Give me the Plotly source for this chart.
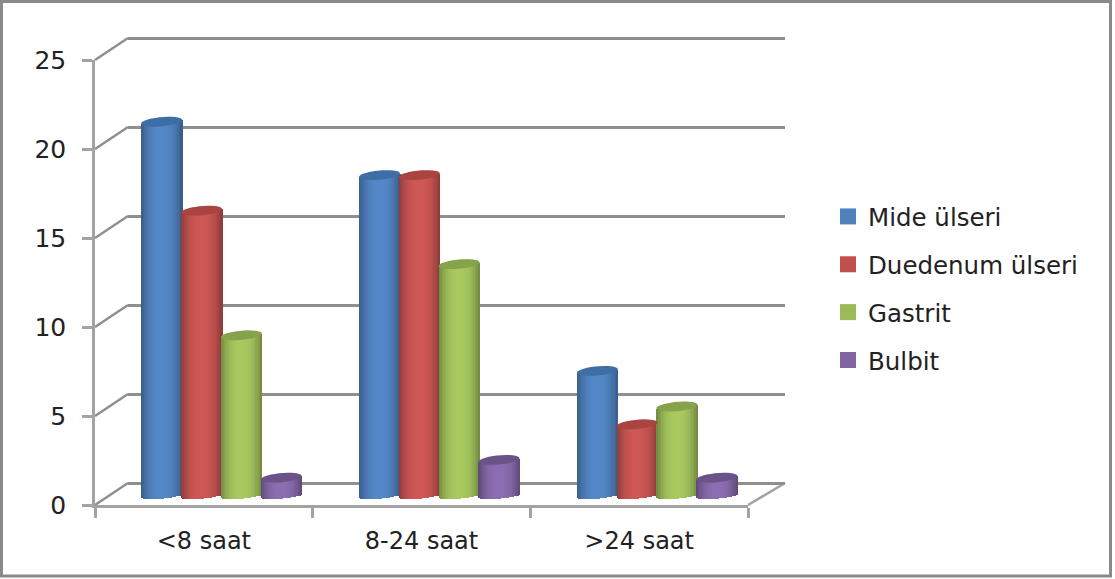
import math
import plotly.graph_objects as go

# Chart data
periods = ["<8 saat", "8-24 saat", ">24 saat"]
mide_ulseri = [21, 18, 7]
duedenum_ulseri = [16, 18, 4]
gastrit = [9, 13, 5]
bulbit = [1, 2, 1]
y_ticks = [0, 5, 10, 15, 20, 25]

series = [
    ("Mide ülseri", mide_ulseri, (84, 136, 200), "#4f81bd", "#3e6ea6"),
    ("Duedenum ülseri", duedenum_ulseri, (206, 88, 85), "#c0504d", "#a94441"),
    ("Gastrit", gastrit, (168, 202, 96), "#9bbb59", "#86a24b"),
    ("Bulbit", bulbit, (140, 110, 178), "#8064a2", "#6b5389"),
]

W, H = 1115, 579
GREY = "#a3a3a3"
WALL_GREY = "#8f8f8f"
FONT = "DejaVu Sans"
TEXT = "#222222"


def xdom(a, b):
    return [a / W, b / W]


def ydom(bottom, top):
    return [1 - bottom / H, 1 - top / H]


# Plot boxes in pixels: back wall, front axes, and the plane the columns stand on
WALL_X, WALL_Y = (128, 785), (483, 38)
FRONT_X, FRONT_Y = (95, 748), (505, 60)
COL_X, COL_Y = (112.5, 766), (495.5, 50.5)

units_per_px_y = 25 / (FRONT_Y[0] - FRONT_Y[1])
units_per_px_x = 3 / (FRONT_X[1] - FRONT_X[0])

# The value ranges are padded: the wall keeps its gridlines at 0 and 25,
# and the round column bottoms can dip below zero without being cut off
PAD = 1
WALL_BOX_Y = (WALL_Y[0] + PAD / units_per_px_y, WALL_Y[1] - PAD / units_per_px_y)
COL_BOX_Y = (COL_Y[0] + PAD / units_per_px_y, COL_Y[1])

BAR_W = 41 * units_per_px_x
BAR_STEP = 39.8 * units_per_px_x
ELL_H = 4.6 * units_per_px_y
FOOT_H = 2.6 * units_per_px_y
ELL_TILT = 1.8 * units_per_px_y
STRIPS = 26


def shade(rgb, t):
    # Rounded-column lighting: brightest near the middle, dark at both edges
    f = 1 - 0.33 * abs(t) ** 2.4
    return "rgb({},{},{})".format(*[int(c * f) for c in rgb])


fig = go.Figure()

# Back wall carries the horizontal gridlines
fig.add_trace(go.Scatter(x=[0], y=[0], mode="none", showlegend=False, hoverinfo="skip",
                         xaxis="x", yaxis="y"))
# Front axes carry the ticks and labels
fig.add_trace(go.Scatter(x=periods, y=[0, 0, 0], mode="none", showlegend=False, hoverinfo="skip",
                         xaxis="x2", yaxis="y2"))

shapes = []
for s_i, (name, values, light, swatch, cap) in enumerate(series):
    xs, ys, bases, widths, colors = [], [], [], [], []
    for g_i, v in enumerate(values):
        centre = g_i + (s_i - 1.5) * BAR_STEP
        for k in range(STRIPS):
            t = -1 + (2 * k + 1) / STRIPS
            lift = ELL_TILT * t
            low = -FOOT_H * math.sqrt(1 - t * t) + lift
            xs.append(centre + t * BAR_W / 2)
            bases.append(low)
            ys.append(v + lift - low)
            widths.append(BAR_W / STRIPS * 1.15)
            colors.append(shade(light, t))
        pts = []
        for a in range(0, 360, 12):
            th = math.radians(a)
            px = centre + BAR_W / 2 * math.cos(th)
            py = v + ELL_H * math.sin(th) + ELL_TILT * math.cos(th)
            pts.append(("M" if a == 0 else "L") + f"{px:.5f},{py:.5f}")
        shapes.append(dict(type="path", path=" ".join(pts) + " Z", xref="x3", yref="y3",
                           fillcolor=cap, line=dict(width=0), layer="above"))
    fig.add_trace(go.Bar(x=xs, y=ys, base=bases, width=widths, cliponaxis=False,
                         marker=dict(color=colors, line=dict(width=0)),
                         name=name, legendgroup=name, showlegend=False,
                         hoverinfo="skip", xaxis="x3", yaxis="y3"))
    fig.add_trace(go.Scatter(x=[None], y=[None], mode="markers", name=name, legendgroup=name,
                             marker=dict(symbol="square", size=16, color=swatch),
                             xaxis="x3", yaxis="y3"))

# Side wall and floor edges joining the front axes to the back wall
for v in y_ticks:
    y0 = FRONT_Y[0] - v / units_per_px_y
    y1 = WALL_Y[0] - v / units_per_px_y
    shapes.append(dict(type="line", xref="paper", yref="paper", layer="below",
                       x0=FRONT_X[0] / W, x1=WALL_X[0] / W,
                       y0=1 - y0 / H, y1=1 - y1 / H,
                       line=dict(color=WALL_GREY, width=2.5)))
shapes.append(dict(type="line", xref="paper", yref="paper", layer="below",
                   x0=FRONT_X[1] / W, x1=WALL_X[1] / W,
                   y0=1 - FRONT_Y[0] / H, y1=1 - WALL_Y[0] / H,
                   line=dict(color=GREY, width=2.5)))
# Outer chart frame
shapes.append(dict(type="rect", xref="paper", yref="paper", layer="below",
                   x0=1.5 / W, x1=1110.5 / W, y0=1 - 576 / H, y1=1 - 1.5 / H,
                   line=dict(color="#8a8a8a", width=3), fillcolor="rgba(0,0,0,0)"))

fig.update_layout(
    width=W, height=H,
    margin=dict(l=0, r=0, t=0, b=0),
    paper_bgcolor="white", plot_bgcolor="rgba(0,0,0,0)",
    barmode="overlay", bargap=0,
    font=dict(family=FONT, size=24, color=TEXT),
    shapes=shapes,
    showlegend=True,
    legend=dict(x=828 / W, xanchor="left", y=1 - 194 / H, yanchor="top",
                font=dict(family=FONT, size=24.5, color=TEXT),
                bgcolor="rgba(0,0,0,0)", tracegroupgap=13, itemwidth=30,
                traceorder="grouped"),
    xaxis=dict(domain=xdom(*WALL_X), range=[-0.5, 2.5], visible=False, automargin=False),
    yaxis=dict(domain=ydom(*WALL_BOX_Y), range=[-PAD, 25 + PAD], tickvals=y_ticks,
               showgrid=True, gridcolor=WALL_GREY, gridwidth=2.5, zeroline=False, showline=False,
               ticks="", showticklabels=False, automargin=False),
    xaxis2=dict(domain=xdom(*FRONT_X), anchor="y2", type="category", categoryarray=periods,
                categoryorder="array", range=[-0.5, 2.5], tickson="boundaries", ticks="outside",
                ticklen=10, tickwidth=2.5, tickcolor=GREY, showline=True, linecolor=GREY, linewidth=2.5,
                showgrid=False, zeroline=False, ticklabelstandoff=12, automargin=False,
                tickfont=dict(family=FONT, size=24, color=TEXT)),
    yaxis2=dict(domain=ydom(*FRONT_Y), anchor="x2", range=[0, 25], tickvals=y_ticks, ticks="outside",
                ticklen=10, tickwidth=2.5, tickcolor=GREY, showline=True, linecolor=GREY, linewidth=2.5,
                showgrid=False, zeroline=False, ticklabelstandoff=11, automargin=False,
                tickfont=dict(family=FONT, size=25, color=TEXT)),
    xaxis3=dict(domain=xdom(*COL_X), anchor="y3", range=[-0.5, 2.5], visible=False, automargin=False),
    yaxis3=dict(domain=ydom(*COL_BOX_Y), anchor="x3", range=[-PAD, 25], visible=False, automargin=False),
)

fig.write_html("out.html")
